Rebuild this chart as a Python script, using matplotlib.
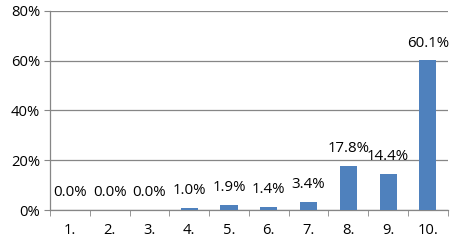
import matplotlib.pyplot as plt
from matplotlib.ticker import FixedLocator, NullFormatter

# data
categories = ['1.', '2.', '3.', '4.', '5.', '6.', '7.', '8.', '9.', '10.']
shares = [0.0, 0.0, 0.0, 1.0, 1.9, 1.4, 3.4, 17.8, 14.4, 60.1]
y_ticks = [0, 20, 40, 60, 80]

plt.rcParams['font.family'] = ['Open Sans', 'DejaVu Sans']

fig, ax = plt.subplots(figsize=(4.63, 2.42), dpi=100)
fig.subplots_adjust(left=0.108, right=0.967, top=0.955, bottom=0.132)

x = list(range(len(categories)))
ax.bar(x, shares, width=0.43, color='#4F81BD', zorder=3)

# value labels above bars
for xi, v in zip(x, shares):
    ax.annotate(f'{v:.1f}%', (xi, v), xytext=(0, 12.5), textcoords='offset points',
                ha='center', va='center', fontsize=10.8, color='black')

ax.set_xlim(-0.5, len(categories) - 0.5)
ax.set_ylim(0, 80)
ax.set_yticks(y_ticks)
ax.set_yticklabels([f'{t}%' for t in y_ticks], fontsize=10.6)
ax.set_xticks(x)
ax.set_xticklabels(categories, fontsize=10.6)
ax.tick_params(axis='x', length=0, pad=9)
ax.tick_params(axis='y', length=4, color='#868686', pad=3)

# category boundary ticks like excel
ax.xaxis.set_minor_locator(FixedLocator([i + 0.5 for i in range(-1, len(categories))]))
ax.xaxis.set_minor_formatter(NullFormatter())
ax.tick_params(axis='x', which='minor', length=4, color='#868686')

ax.grid(axis='y', color='#868686', linewidth=0.9, zorder=0)
for s in ['top', 'right']:
    ax.spines[s].set_visible(False)
for s in ['left', 'bottom']:
    ax.spines[s].set_color('#868686')
    ax.spines[s].set_linewidth(0.9)

plt.savefig('out.png', dpi=100)
